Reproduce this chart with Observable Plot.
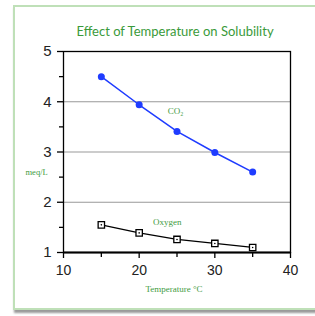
<!DOCTYPE html>
<html><head><meta charset="utf-8">
<script src="https://cdn.jsdelivr.net/npm/d3@7"></script>
<script src="https://cdn.jsdelivr.net/npm/@observablehq/plot@0.6"></script>
<style>
html,body{margin:0;padding:0;background:#fff;width:315px;height:316px;overflow:hidden;}
#box{position:absolute;left:13px;top:5px;width:320px;height:301px;border:2px solid #bfe0b8;box-shadow:1px 3px 2px #9a9a9a;background:#fff;}
#title{position:absolute;left:0;width:350px;top:23px;text-align:center;font-family:Lato,"Open Sans",sans-serif;font-size:13px;color:#3a9a3a;}
#chart{position:absolute;left:0;top:0;}
</style></head>
<body>
<div id="box"></div>
<div id="chart"></div>
<div id="title">Effect of Temperature on Solubility</div>
<script>
const temps = [15, 20, 25, 30, 35];
const co2 = [4.5, 3.94, 3.41, 2.99, 2.6];
const oxygen = [1.55, 1.39, 1.26, 1.18, 1.10];
const xTicks = [10, 20, 30, 40];
const xMinor = [15, 25, 35];
const yTicks = [1, 2, 3, 4, 5];
const yMinor = [1.5, 2.5, 3.5, 4.5];
const gridY = [2, 3, 4];
const seriesLabels = [
  {text: "CO\u2082", x: 24.8, y: 3.81},
  {text: "Oxygen", x: 23.7, y: 1.6}
];

const co2Data = temps.map((t, i) => ({t, v: co2[i]}));
const oxData = temps.map((t, i) => ({t, v: oxygen[i]}));
const green = "#3f9c3f";
const blank = () => "";

const plot = Plot.plot({
  width: 315, height: 316,
  marginLeft: 63, marginRight: 25, marginTop: 51, marginBottom: 64,
  style: {background: "transparent", fontFamily: "'Liberation Sans', Arial, sans-serif"},
  x: {domain: [10, 40], axis: null},
  y: {domain: [1, 5], axis: null},
  marks: [
    Plot.ruleY(gridY, {stroke: "#999", strokeWidth: 1.2}),
    Plot.frame({stroke: "#000", strokeWidth: 1.3}),
    Plot.ruleY([1], {stroke: "#000", strokeWidth: 2}),
    Plot.axisX({ticks: xTicks, tickSize: 6, tickPadding: 7, fontSize: 14, color: "#222", stroke: "#000", strokeWidth: 1.3, tickFormat: "d", label: null, style: "letter-spacing:2px"}),
    Plot.axisX({ticks: xMinor, tickSize: 5, tickFormat: blank, stroke: "#000", strokeWidth: 1.3, label: null}),
    Plot.axisY({ticks: yTicks, tickSize: 6, tickPadding: 6, fontSize: 15, color: "#222", stroke: "#000", strokeWidth: 1.3, tickFormat: "d", label: null}),
    Plot.axisY({ticks: yMinor, tickSize: 4, tickFormat: blank, stroke: "#000", strokeWidth: 1.3, label: null}),
    Plot.line(co2Data, {x: "t", y: "v", stroke: "#1f3cff", strokeWidth: 1.5}),
    Plot.dot(co2Data, {x: "t", y: "v", fill: "#1f3cff", r: 3.5}),
    Plot.line(oxData, {x: "t", y: "v", stroke: "#000", strokeWidth: 1.3}),
    Plot.dot(oxData, {x: "t", y: "v", symbol: "square", r: 3.6, fill: "#fff", stroke: "#000", strokeWidth: 1.3}),
    Plot.dot(oxData, {x: "t", y: "v", r: 0.8, fill: "#000"}),
    Plot.text(seriesLabels, {x: "x", y: "y", text: "text", fill: green, fontSize: 9, fontFamily: "'Liberation Serif', 'DejaVu Serif', serif"}),
    Plot.text(["Temperature \u00b0C"], {x: () => 24.6, frameAnchor: "bottom", dy: 39, fill: green, fontSize: 9, fontFamily: "'Liberation Serif', serif"}),
    Plot.text(["meq/L"], {frameAnchor: "left", y: () => 2.6, dx: -38, fill: green, fontSize: 8.5, fontFamily: "'Liberation Serif', serif"})
  ]
});
document.getElementById("chart").appendChild(plot);
</script>
</body></html>
